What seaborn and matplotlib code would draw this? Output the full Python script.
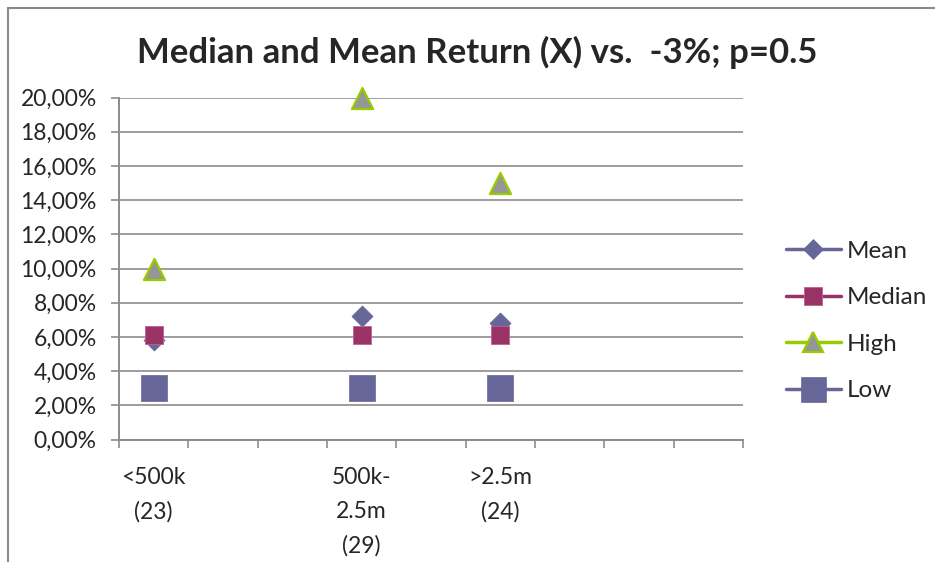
import numpy as np
import pandas as pd
import matplotlib
matplotlib.use("Agg")
import matplotlib.pyplot as plt
from matplotlib.lines import Line2D
from matplotlib.patches import Rectangle
from matplotlib.ticker import FuncFormatter, FixedLocator
import seaborn as sns

# Category slots along the x axis (only three are populated)
categories = ["<500k\n(23)", "", "", "500k-\n2.5m\n(29)", "", ">2.5m\n(24)", "", "", ""]

# Series values in percent (None = no point in that slot)
mean_vals = [5.8, None, None, 7.2, None, 6.8, None, None, None]
median_vals = [6.1, None, None, 6.1, None, 6.1, None, None, None]
high_vals = [10.0, None, None, 20.0, None, 15.0, None, None, None]
low_vals = [3.0, None, None, 3.0, None, 3.0, None, None, None]

series_names = ["Mean", "Median", "High", "Low"]
series_values = [mean_vals, median_vals, high_vals, low_vals]

title = "Median and Mean Return (X) vs.  -3%; p=0.5"

sns.set_theme(style="white")
plt.rcParams["font.family"] = ["Lato", "DejaVu Sans"]

styles = {
    "Mean":   dict(marker="D", s=115, color="#666699", edgecolor="#666699", lw=0.5, ms=10.5, line="#666699"),
    "Median": dict(marker="s", s=185, color="#993366", edgecolor="#c06090", lw=0.6, ms=13.5, line="#993366"),
    "High":   dict(marker="^", s=230, color="#969696", edgecolor="#99cc00", lw=1.6, ms=15, line="#99cc00"),
    "Low":    dict(marker="s", s=350, color="#666699", edgecolor="#666699", lw=0.5, ms=18, line="#666699"),
}

rows = []
for name, vals in zip(series_names, series_values):
    for i, v in enumerate(vals):
        if v is not None:
            rows.append({"series": name, "pos": i + 0.5, "value": v})
df = pd.DataFrame(rows)

fig = plt.figure(figsize=(9.35, 5.62), dpi=100)
ax = fig.add_axes([119 / 935, 1 - 439.5 / 562, (743 - 119) / 935, (439.5 - 97.5) / 562])

grid_col = "#8c8c8c"
for name in series_names:
    st = styles[name]
    sub = df[df["series"] == name]
    sns.scatterplot(data=sub, x="pos", y="value", ax=ax, marker=st["marker"], s=st["s"],
                    color=st["color"], edgecolor=st["edgecolor"], linewidth=st["lw"],
                    legend=False, zorder=3, clip_on=False)

n = len(categories)
ax.set_xlim(0, n)
ax.set_ylim(0, 20)
ax.set_yticks(np.arange(0, 20.01, 2))
ax.yaxis.set_major_formatter(FuncFormatter(lambda v, p: f"{v:.2f}%".replace(".", ",")))
ax.grid(axis="y", color=grid_col, linewidth=1.2)
ax.set_axisbelow(True)

# Tick marks at category boundaries, labels at category centres
ax.xaxis.set_major_locator(FixedLocator(np.arange(0, n + 1)))
ax.xaxis.set_minor_locator(FixedLocator(np.arange(n) + 0.5))
ax.set_xticklabels([""] * (n + 1))
ax.set_xticklabels(categories, minor=True, linespacing=1.75)
ax.tick_params(axis="x", which="major", direction="out", length=6, width=1.2, color=grid_col, bottom=True)
ax.tick_params(axis="x", which="minor", length=0, pad=20, labelsize=16.5)
ax.tick_params(axis="y", direction="out", length=6, width=1.2, color=grid_col, left=True,
               pad=10, labelsize=16.5)
ax.set_xlabel("")
ax.set_ylabel("")

for side in ["top", "right"]:
    ax.spines[side].set_visible(False)
for side in ["left", "bottom"]:
    ax.spines[side].set_color(grid_col)
    ax.spines[side].set_linewidth(1.4)

fig.text(477 / 935, 1 - 52 / 562, title, ha="center", va="center",
         fontsize=25, fontweight="bold")

handles = [Line2D([0], [0], color=styles[nm]["line"], lw=2.5, marker=styles[nm]["marker"],
                  markersize=styles[nm]["ms"], markerfacecolor=styles[nm]["color"],
                  markeredgecolor=styles[nm]["edgecolor"], markeredgewidth=styles[nm]["lw"])
           for nm in series_names]
fig.legend(handles, series_names, loc="center left", bbox_to_anchor=(786 / 935, 1 - 321 / 562),
           frameon=False, fontsize=17.5, handlelength=2.25, handletextpad=0.25, labelspacing=1.05,
           borderpad=0, borderaxespad=0)

# Outer chart frame
fig.patches.append(Rectangle((8 / 935, -0.05), 1.1, 1 - 8 / 562 + 0.05, transform=fig.transFigure,
                             fill=False, edgecolor="#8a8a8a", linewidth=1.5))

fig.savefig("out.png", dpi=100)
